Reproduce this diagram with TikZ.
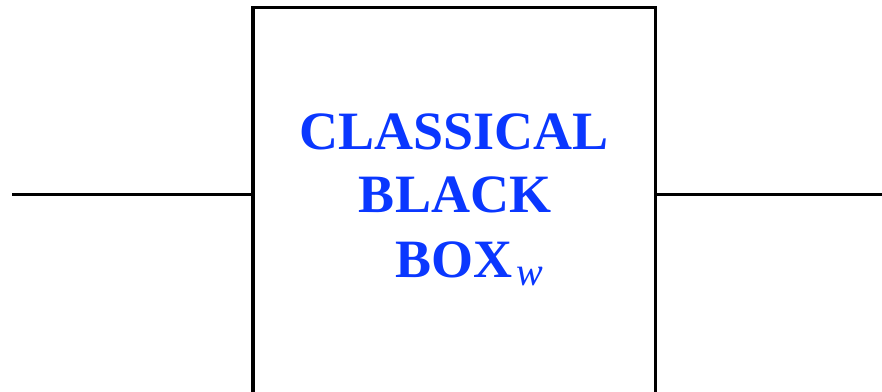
\documentclass[tikz,border=0pt]{standalone}
\usepackage{fontspec}
\setmainfont{Liberation Serif}
\definecolor{txtblue}{RGB}{10,55,255}
\begin{document}
\begin{tikzpicture}[x=1pt,y=1pt,
  wire/.style={line width=3.5pt},
  boxline/.style={line width=3.5pt},
  lbl/.style={inner sep=0pt,anchor=base,text=txtblue,font=\fontsize{54}{60}\selectfont\bfseries}]
\useasboundingbox (0,0) rectangle (882,391);
\coordinate (bl) at (253,-10);
\coordinate (tl) at (253,383.5);
\coordinate (tr) at (655.5,383.5);
\coordinate (br) at (655.5,-10);
\draw[boxline] (bl) -- (tl) -- (tr) -- (br);
\coordinate (inL) at (12,196.5);
\coordinate (boxL) at (253,196.5);
\coordinate (boxR) at (655.5,196.5);
\coordinate (outR) at (885,196.5);
\draw[wire] (inL) -- (boxL);
\draw[wire] (boxR) -- (outR);
\node[lbl] (t1) at (454,241) {CLASSICAL};
\node[lbl] (t2) at (455,178) {BLACK};
\node[lbl] (t3) at (454,114) {BOX};
\node[inner sep=0pt,anchor=base west,text=txtblue,font=\fontsize{40}{44}\selectfont\itshape] (t4) at ([xshift=4pt,yshift=-8pt]t3.base east) {w};
\end{tikzpicture}
\end{document}
